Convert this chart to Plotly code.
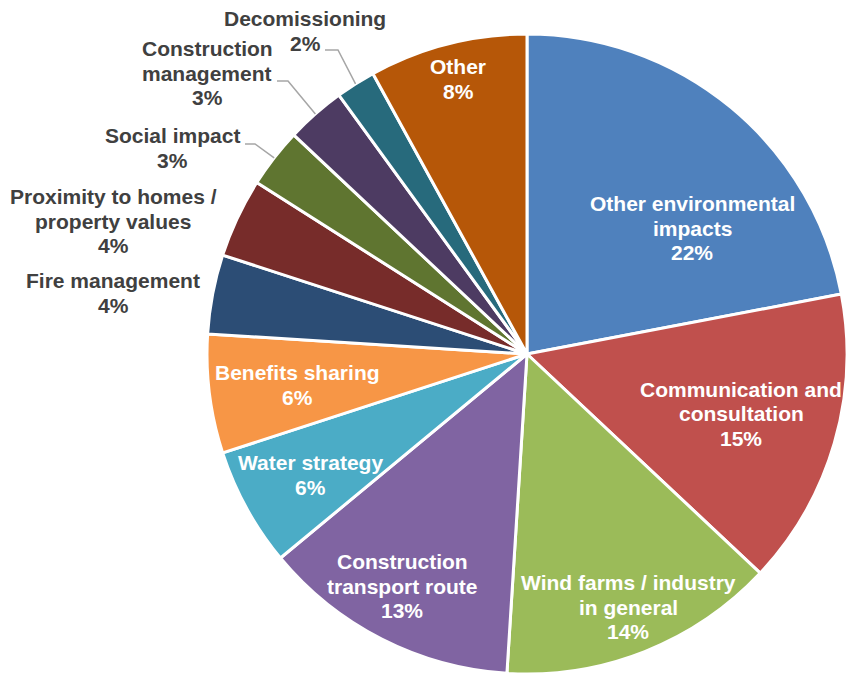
import math
import plotly.graph_objects as go

# ---------------- data ----------------
categories = [
    "Other environmental impacts",
    "Communication and consultation",
    "Wind farms / industry in general",
    "Construction transport route",
    "Water strategy",
    "Benefits sharing",
    "Fire management",
    "Proximity to homes / property values",
    "Social impact",
    "Construction management",
    "Decomissioning",
    "Other",
]
values = [22, 15, 14, 13, 6, 6, 4, 4, 3, 3, 2, 8]

# label text as displayed (one entry per line)
label_lines = [
    ["Other environmental", "impacts"],
    ["Communication and", "consultation"],
    ["Wind farms / industry", "in general"],
    ["Construction", "transport route"],
    ["Water strategy"],
    ["Benefits sharing"],
    ["Fire management"],
    ["Proximity to homes /", "property values"],
    ["Social impact"],
    ["Construction", "management"],
    ["Decomissioning"],
    ["Other"],
]

# ---------------- styling ----------------
colors = ["#4F81BD", "#C0504D", "#9BBB59", "#8064A2", "#4BACC6", "#F79646",
          "#2C4D75", "#772C2A", "#5F7530", "#4D3B62", "#276A7C", "#B65708"]
inside = [True, True, True, True, True, True, False, False, False, False, False, True]

W, H = 847, 678
cx, cy, R = 527, 354, 320   # pie centre / radius in pixels

# label anchor positions (pixels, centre of text block)
label_pos = [(692, 228), (741, 414), (628, 607), (402, 586), (310, 475),
             (297, 385), (113, 293), (113, 221), (172, 148), (207, 73),
             (305, 31), (458, 79)]
# leader-line start point and elbow (pixels)
leaders = {8: [(245, 144), (255, 144)],
           9: [(277, 81), (288, 81)],
           10: [(325, 50), (338, 50)]}

FONT = "Liberation Sans, Arial, sans-serif"
FS = 21
LINE = 24.5


def fx(x):
    return x / W


def fy(y):
    return 1 - y / H


fig = go.Figure(go.Pie(
    labels=categories,
    values=values,
    sort=False,
    direction="clockwise",
    rotation=0,
    marker=dict(colors=colors, line=dict(color="white", width=3)),
    textinfo="none",
    hoverinfo="label+percent",
    showlegend=False,
    domain=dict(x=[fx(cx - R), fx(cx + R)], y=[fy(cy + R), fy(cy - R)]),
))

total = sum(values)
annotations = []
shapes = []
cum = 0
for i, v in enumerate(values):
    pct = f"{round(v / total * 100)}%"
    lines = label_lines[i] + [pct]
    px, py = label_pos[i]
    n = len(lines)
    for k, line in enumerate(lines):
        ly = py + (k - (n - 1) / 2) * LINE
        annotations.append(dict(
            x=fx(px), y=fy(ly), xref="paper", yref="paper",
            text=f"<b>{line}</b>", showarrow=False,
            xanchor="center", yanchor="middle", align="center",
            font=dict(family=FONT, size=FS, color="white" if inside[i] else "#404040"),
        ))
    mid = (cum + v / 2) / total * 2 * math.pi
    cum += v
    if i in leaders:
        ex = cx + R * math.sin(mid)
        ey = cy - R * math.cos(mid)
        pts = leaders[i] + [(ex, ey)]
        path = "M " + " L ".join(f"{fx(x)} {fy(y)}" for x, y in pts)
        shapes.append(dict(type="path", path=path, xref="paper", yref="paper",
                           line=dict(color="#A6A6A6", width=1.5)))

fig.update_layout(
    width=W, height=H,
    margin=dict(l=0, r=0, t=0, b=0),
    paper_bgcolor="white",
    plot_bgcolor="white",
    annotations=annotations,
    shapes=shapes,
)

fig.write_html("out.html",
               config={"displayModeBar": False},
               post_script="document.body.style.margin='0';document.body.style.overflow='hidden';")
